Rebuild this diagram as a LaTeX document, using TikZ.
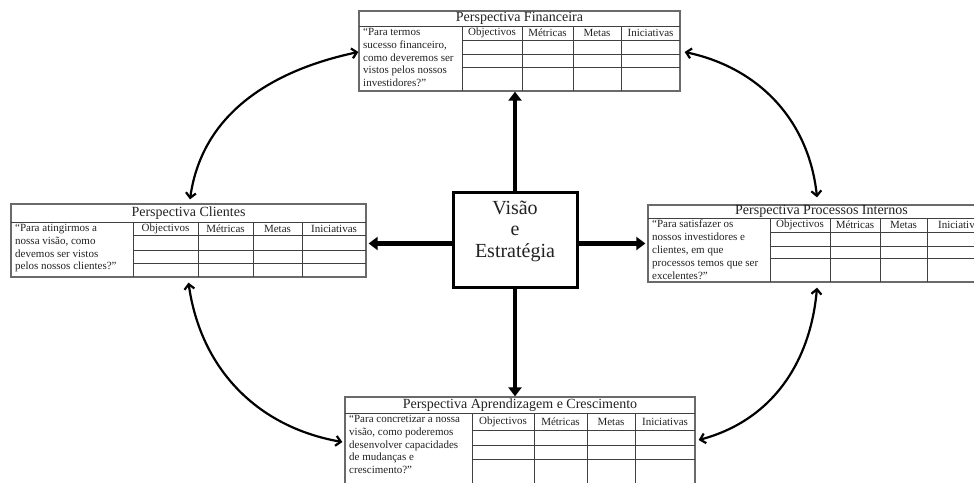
\documentclass[tikz,border=0pt]{standalone}
\usepackage{fontspec}
\setmainfont{Liberation Serif}
\usetikzlibrary{arrows.meta,fit,calc}
\definecolor{boxgray}{HTML}{6A6A6A}
\definecolor{linegray}{HTML}{404040}
\definecolor{txt}{HTML}{222222}
\tikzset{
 pbox/.style={draw=boxgray, line width=1.3pt, inner sep=0pt},
 tline/.style={draw=linegray, line width=0.9pt},
 ptitle/.style={font=\fontsize{14}{15}\selectfont, text=txt, inner sep=0pt},
 phead/.style={font=\fontsize{11}{12}\selectfont, text=txt, inner sep=0pt},
 pquote/.style={font=\fontsize{11}{12.8}\selectfont, text=txt, align=left, inner sep=0pt, anchor=north west},
 vebox/.style={draw=black, line width=3pt, inner sep=0pt},
 vetext/.style={font=\fontsize{20}{21.5}\selectfont, text=txt, align=center, inner sep=0pt},
 bigarrow/.style={line width=4.5pt, -{Triangle[length=9pt,width=13pt]}},
 curvarrow/.style={line width=2.2pt, {Straight Barb[length=5pt,width=10pt]}-{Straight Barb[length=5pt,width=10pt]}},
}
\begin{document}
\begin{tikzpicture}[x=1pt,y=-1pt]
\useasboundingbox (0,0) rectangle (974,482);
\fill[white] (0,0) rectangle (974,482);
\clip (0,0) rectangle (974,482);

% ---------- Financeira ----------
\node[pbox, fit={(359,11) (680,91)}] (fin) {};
\draw[tline] (359,26) -- (680,26);
\foreach \yy in {40,54,67} \draw[tline] (462,\yy) -- (680,\yy);
\foreach \xx in {462,522,573,621} \draw[tline] (\xx,26) -- (\xx,91);
\node[ptitle] (finT) at (519.5,18.5) {Perspectiva Financeira};
\foreach \a/\b/\t in {462/522/Objectivos,522/573/Métricas,573/621/Metas,621/680/Iniciativas}
  \node[phead] at ({(\a+\b)/2},33) {\t};
\node[pquote] (finQ) at (363,28) {“Para termos\\sucesso financeiro,\\como deveremos ser\\vistos pelos nossos\\investidores?”};

% ---------- Clientes ----------
\node[pbox, fit={(11,204) (366,277)}] (cli) {};
\draw[tline] (11,222) -- (366,222);
\foreach \yy in {235,250,263} \draw[tline] (133,\yy) -- (366,\yy);
\foreach \xx in {133,198,253,302} \draw[tline] (\xx,222) -- (\xx,277);
\node[ptitle] (cliT) at (188.5,213) {Perspectiva Clientes};
\foreach \a/\b/\t in {133/198/Objectivos,198/253/Métricas,253/302/Metas,302/366/Iniciativas}
  \node[phead] at ({(\a+\b)/2},228.5) {\t};
\node[pquote] (cliQ) at (15,224) {“Para atingirmos a\\nossa visão, como\\devemos ser vistos\\pelos nossos clientes?”};

% ---------- Processos Internos ----------
\node[pbox, fit={(648,205) (995,282)}] (pro) {};
\draw[tline] (648,218) -- (995,218);
\foreach \yy in {232,246,258} \draw[tline] (770,\yy) -- (995,\yy);
\foreach \xx in {770,830,880,927} \draw[tline] (\xx,218) -- (\xx,282);
\node[ptitle] (proT) at (821.5,211.5) {Perspectiva Processos Internos};
\foreach \a/\b/\t in {770/830/Objectivos,830/880/Métricas,880/927/Metas,927/995/Iniciativas}
  \node[phead] at ({(\a+\b)/2},225) {\t};
\node[pquote] (proQ) at (652,220) {“Para satisfazer os\\nossos investidores e\\clientes, em que\\processos temos que ser\\excelentes?”};

% ---------- Aprendizagem e Crescimento ----------
\node[pbox, fit={(345,397) (695,487)}] (apr) {};
\draw[tline] (345,413) -- (695,413);
\foreach \yy in {430,445,459} \draw[tline] (472,\yy) -- (695,\yy);
\foreach \xx in {472,534,587,635} \draw[tline] (\xx,413) -- (\xx,487);
\node[ptitle] (aprT) at (520,405) {Perspectiva Aprendizagem e Crescimento};
\foreach \a/\b/\t in {472/534/Objectivos,534/587/Métricas,587/635/Metas,635/695/Iniciativas}
  \node[phead] at ({(\a+\b)/2},421.5) {\t};
\node[pquote] (aprQ) at (349,415) {“Para concretizar a nossa\\visão, como poderemos\\desenvolver capacidades\\de mudanças e\\crescimento?”};

% ---------- Visão e Estratégia ----------
\node[vebox, fit={(453,192) (577,287)}] (ve) {};
\node[vetext] (veT) at (515,231) {Visão\\e\\Estratégia};

% ---------- straight arrows ----------
\draw[bigarrow] (ve.north) -- (ve.north |- fin.south);
\draw[bigarrow] (ve.south) -- (ve.south |- apr.north);
\draw[bigarrow] ($(ve.west)+(0,4)$) -- ($(ve.west -| cli.east)+(2,4)$);
\draw[bigarrow] ($(ve.east)+(0,4)$) -- ($(ve.east -| pro.west)+(-2,4)$);

% ---------- curved arrows ----------
\draw[curvarrow] ($(cli.north)+(1.5,-4)$) to[out=82,in=192] ($(fin.west)+(0,1)$);
\draw[curvarrow] ($(fin.east)+(4,1)$) to[out=-12,in=96] ($(pro.north)+(-4.5,-7)$);
\draw[curvarrow] ($(cli.south)+(0,5)$) to[out=-82,in=170] ($(apr.west)+(-2,0)$);
\draw[curvarrow] ($(pro.south)+(-4.5,5)$) to[out=-95,in=15] ($(apr.east)+(3,-2)$);
\end{tikzpicture}
\end{document}
